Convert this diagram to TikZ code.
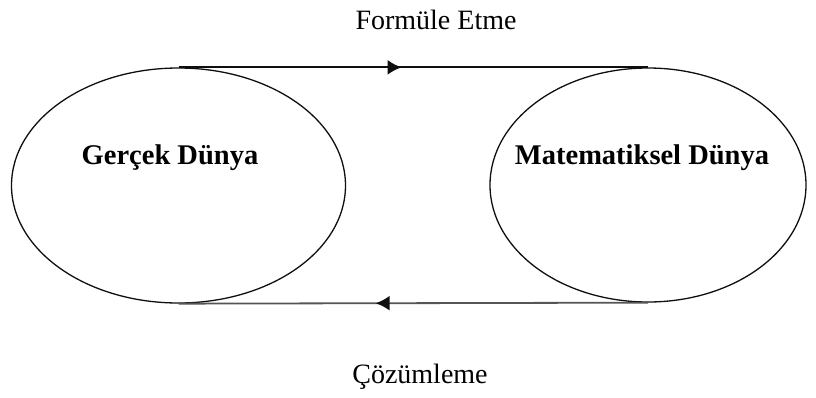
\documentclass[tikz,border=0pt]{standalone}
\usepackage{fontspec}
\setmainfont{Liberation Serif}
\usetikzlibrary{arrows.meta,shapes.geometric,decorations.markings}
\definecolor{inkblack}{RGB}{15, 15, 15}
\definecolor{inkgray}{RGB}{85, 85, 85}

\begin{document}
\begin{tikzpicture}[x=1pt, y=-1pt,
            world/.style={draw=inkblack, ellipse, line width=1.3pt, inner sep=0pt},
            worldname/.style={font=\fontsize{28.5}{34}\selectfont\bfseries},
            stepname/.style={font=\fontsize{28}{33}\selectfont},
            flowtip/.style={decoration={markings, mark=at position #1 with {\arrow[inkblack]{Latex[length=14pt,width=15pt]}}}, postaction={decorate}}]
            \useasboundingbox (0,0) rectangle (816,397);
            \node[world, minimum width=334, minimum height=235] (gercek)   at (178.5,185.5) {};
            \node[world, minimum width=316, minimum height=234] (matematik) at (648.0,185.0) {};
            \node[worldname] (gercekname)    at (170,158) {Gerçek Dünya};
            \node[worldname] (matematikname) at (642,158) {Matematiksel Dünya};
            \node[stepname] (formule)  at (436,20)  {Formüle Etme};
            \node[stepname] (cozumleme) at (420,377) {Çözümleme};
            \draw[inkblack, line width=1.8pt, flowtip=0.475] (gercek.north) -- (matematik.north);
            \draw[inkgray,  line width=1.8pt, flowtip=0.58]  (matematik.south) -- (gercek.south);
\end{tikzpicture}
\end{document}
